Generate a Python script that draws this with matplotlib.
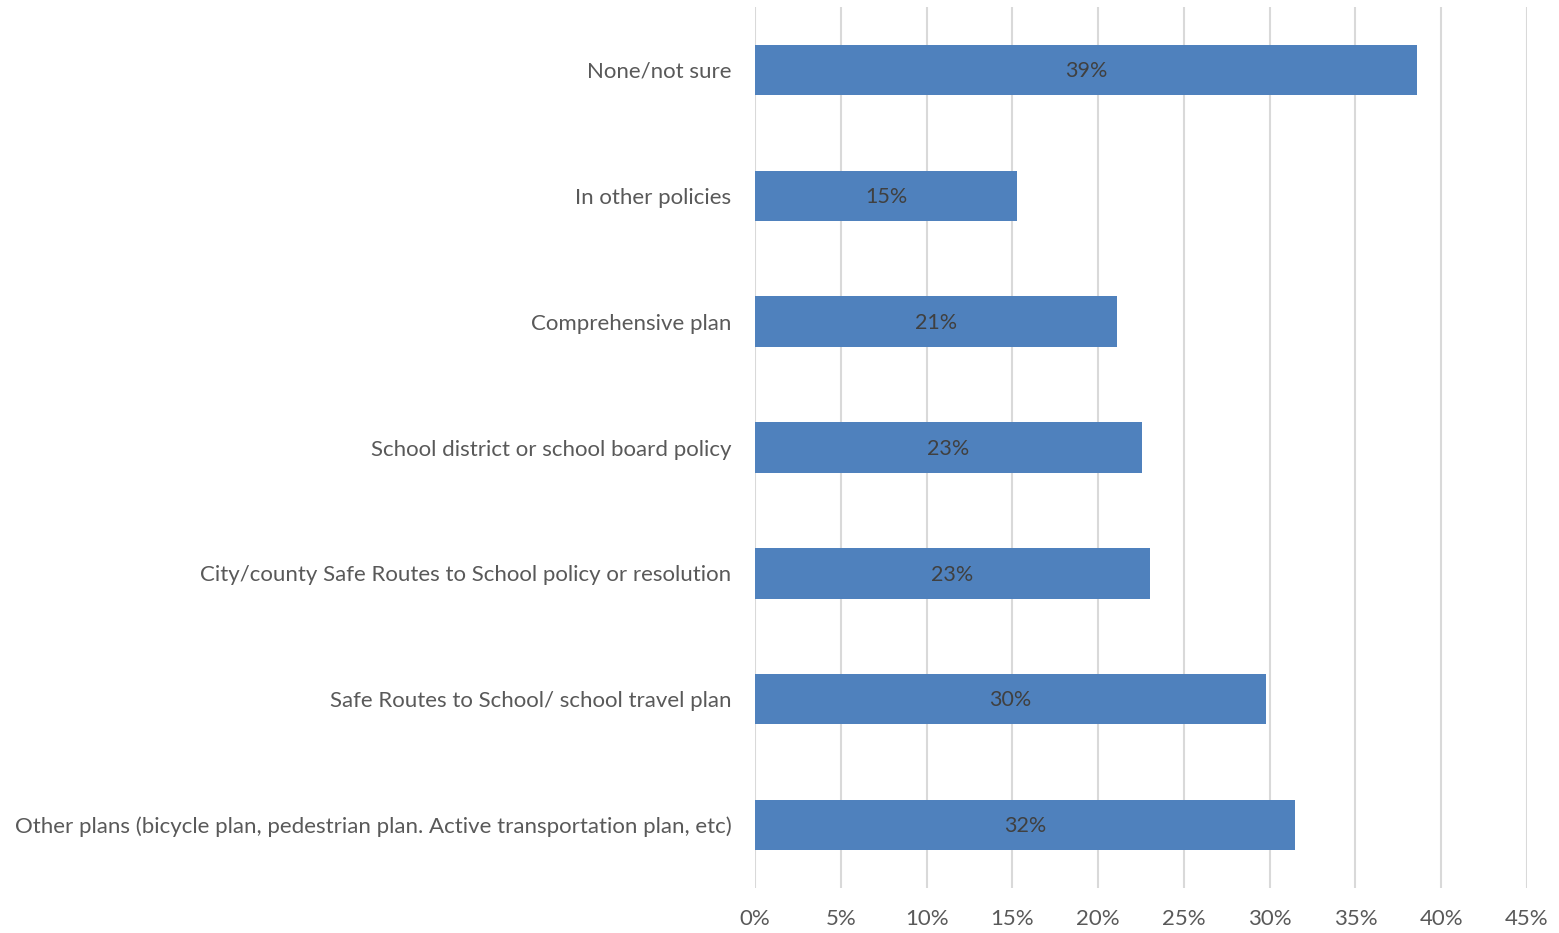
import matplotlib
matplotlib.use('Agg')
import matplotlib.pyplot as plt
from matplotlib.ticker import FuncFormatter

categories = [
    'Other plans (bicycle plan, pedestrian plan. Active transportation plan, etc)',
    'Safe Routes to School/ school travel plan',
    'City/county Safe Routes to School policy or resolution',
    'School district or school board policy',
    'Comprehensive plan',
    'In other policies',
    'None/not sure',
]
values = [31.5, 29.8, 23.0, 22.55, 21.1, 15.27, 38.6]
xticks = [0, 5, 10, 15, 20, 25, 30, 35, 40, 45]

TEXT = '#595959'
plt.rcParams['font.family'] = ['Lato', 'DejaVu Sans']

fig = plt.figure(figsize=(15.59, 9.33), dpi=100)
ax = fig.add_axes([0.4843, 0.0482, 0.9795 - 0.4843, 0.9925 - 0.0482])

pos = list(range(len(categories)))
ax.barh(pos, values, height=0.4, color='#4f81bd', zorder=3)

for y, v in zip(pos, values):
    ax.text(v / 2, y - 0.01, '{:.0f}%'.format(v), ha='center', va='center',
            fontsize=15.5, color='#404040', zorder=4)

ax.set_xlim(0, 45)
ax.set_ylim(-0.5, len(categories) - 0.5)
ax.set_xticks(xticks)
ax.xaxis.set_major_formatter(FuncFormatter(lambda x, p: '{:.0f}%'.format(x)))
ax.set_yticks(pos)
ax.set_yticklabels(categories)
ax.grid(axis='x', color='#d9d9d9', linewidth=1.5, zorder=0)
for s in ax.spines.values():
    s.set_visible(False)
ax.tick_params(axis='both', length=0, labelsize=16, labelcolor=TEXT)
ax.tick_params(axis='y', pad=17)
ax.tick_params(axis='x', pad=15)

fig.savefig('out.png', dpi=100)
